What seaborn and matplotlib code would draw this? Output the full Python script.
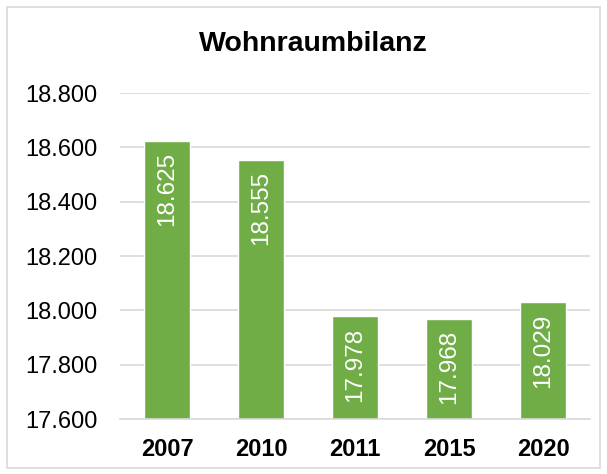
import matplotlib
matplotlib.use("Agg")
import matplotlib.pyplot as plt
import seaborn as sns
import pandas as pd
from matplotlib.patches import Rectangle

years = ["2007", "2010", "2011", "2015", "2020"]
values = [18625, 18555, 17978, 17968, 18029]
labels = ["18.625", "18.555", "17.978", "17.968", "18.029"]
yticks = [17600, 17800, 18000, 18200, 18400, 18600, 18800]
yticklabels = ["17.600", "17.800", "18.000", "18.200", "18.400", "18.600", "18.800"]

sns.set_theme(style="white")
plt.rcParams["font.family"] = ["Liberation Sans", "DejaVu Sans"]

df = pd.DataFrame({"Jahr": years, "Wert": values})

fig = plt.figure(figsize=(6.07, 4.74), dpi=100)
ax = fig.add_axes([120/607, 1 - 419/474, 470/607, (419-93)/474])
sns.barplot(data=df, x="Jahr", y="Wert", color="#70AD47", saturation=1, width=0.48, ax=ax)

ax.set_ylim(17600, 18800)
ax.set_yticks(yticks)
ax.set_yticklabels(yticklabels, fontsize=17, color="#000000")
ax.set_xticklabels(years, fontsize=17, fontweight="bold", color="#000000")
ax.set_xlabel("")
ax.set_ylabel("")
ax.yaxis.grid(True, color="#D9D9D9", linewidth=1.2)
ax.set_axisbelow(True)
for s in ["top", "right", "left"]:
    ax.spines[s].set_visible(False)
ax.spines["bottom"].set_color("#D9D9D9")
ax.spines["bottom"].set_linewidth(1.2)
ax.tick_params(axis="x", length=0, pad=14)
ax.tick_params(axis="y", length=0, pad=16)
ax.set_xlim(-0.5, 4.5)

for i, (v, lab) in enumerate(zip(values, labels)):
    ax.annotate(lab, (i, v), xytext=(0, -8), textcoords="offset points", rotation=90,
                ha="center", va="top", color="white", fontsize=17.5)

fig.text(313/607, 1 - 44/474, "Wohnraumbilanz", ha="center", va="center", fontsize=20.5, fontweight="bold", color="#000000")
fig.patches.append(Rectangle((7/607, 1 - 468/474), 593/607, 461/474, transform=fig.transFigure,
                             fill=False, edgecolor="#D9D9D9", linewidth=1.2))

fig.savefig("out.png", dpi=100)
